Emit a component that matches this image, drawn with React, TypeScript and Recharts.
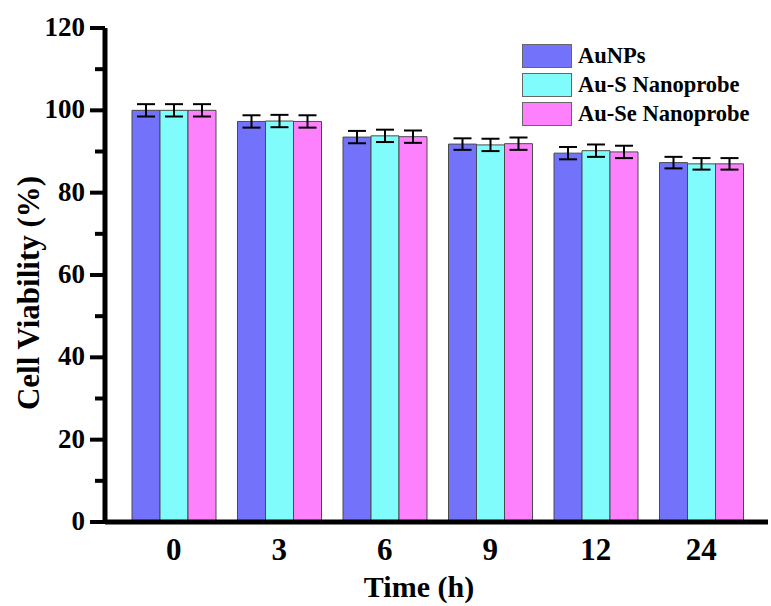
import React from 'react';
import { BarChart, Bar, XAxis, YAxis, ErrorBar, Label } from 'recharts';

const TIMES = ['0', '3', '6', '9', '12', '24'];
const AUNPS = [100, 97.3, 93.5, 91.8, 89.6, 87.3];
const AU_S = [100, 97.4, 93.8, 91.6, 90.2, 87.0];
const AU_SE = [100, 97.3, 93.6, 91.9, 89.9, 87.0];
const AUNPS_ERR = [1.5, 1.5, 1.5, 1.4, 1.5, 1.4];
const AU_S_ERR = [1.5, 1.5, 1.5, 1.5, 1.5, 1.4];
const AU_SE_ERR = [1.5, 1.5, 1.5, 1.5, 1.5, 1.4];
const Y_TICKS = [0, 10, 20, 30, 40, 50, 60, 70, 80, 90, 100, 110, 120];

const SERIES = [
  { key: 'aunps', err: 'aunpsErr', name: 'AuNPs', color: '#7272fb' },
  { key: 'aus', err: 'ausErr', name: 'Au-S Nanoprobe', color: '#80fcfc' },
  { key: 'ause', err: 'auseErr', name: 'Au-Se Nanoprobe', color: '#fd80fd' },
];

const data = TIMES.map((t, i) => ({
  time: t,
  aunps: AUNPS[i],
  aus: AU_S[i],
  ause: AU_SE[i],
  aunpsErr: AUNPS_ERR[i],
  ausErr: AU_S_ERR[i],
  auseErr: AU_SE_ERR[i],
}));

const FONT = '"Liberation Serif", "Times New Roman", serif';
const AXIS_X = 105;

const YTick = (props: any) => {
  const { y, payload } = props;
  const major = payload.value % 20 === 0;
  return (
    <g>
      <line x1={AXIS_X} x2={AXIS_X - (major ? 15 : 10)} y1={y} y2={y} stroke="#000" strokeWidth={4} />
      {major && (
        <text x={85} y={y} dy={-1} textAnchor="end" dominantBaseline="central"
          style={{ fontFamily: FONT, fontWeight: 700, fontSize: 27 }} fill="#000">
          {payload.value}
        </text>
      )}
    </g>
  );
};

const XTick = (props: any) => {
  const { x, payload } = props;
  return (
    <text x={x} y={560} textAnchor="middle" style={{ fontFamily: FONT, fontWeight: 700, fontSize: 31 }} fill="#000">
      {payload.value}
    </text>
  );
};

const Legendbox = () => (
  <div style={{ position: 'absolute', left: 522, top: 41, fontFamily: FONT, fontWeight: 'bold', fontSize: 22.5 }}>
    {SERIES.map((s) => (
      <div key={s.key} style={{ display: 'flex', alignItems: 'center', height: 29 }}>
        <div style={{ width: 50, height: 24, background: s.color, border: '1px solid #666', boxSizing: 'border-box' }} />
        <span style={{ marginLeft: 6, whiteSpace: 'nowrap' }}>{s.name}</span>
      </div>
    ))}
  </div>
);

export default function App() {
  return (
    <div style={{ position: 'absolute', left: 0, top: 0, width: 771, height: 606, background: '#fff' }}>
      <BarChart width={771} height={606} data={data} margin={{ top: 28, right: 3, left: 0, bottom: 0 }}
        barGap={0} barSize={28}>
        <XAxis dataKey="time" height={84} tick={<XTick />} tickLine={false} interval={0}
          padding={{ left: 16, right: 14 }} axisLine={{ stroke: '#000', strokeWidth: 5 }}>
          <Label content={() => (
            <text x={419} y={597} textAnchor="middle" style={{ fontFamily: FONT, fontWeight: 700, fontSize: 30 }} fill="#000">
              Time (h)
            </text>
          )} />
        </XAxis>
        <XAxis xAxisId="top" orientation="top" dataKey="time" height={0} tick={false} tickLine={false}
          padding={{ left: 16, right: 14 }} axisLine={{ stroke: '#000', strokeWidth: 4 }} />
        <YAxis width={105} domain={[0, 120]} ticks={Y_TICKS} interval={0} tick={<YTick />} tickLine={false}
          axisLine={{ stroke: '#000', strokeWidth: 5 }}>
          <Label content={() => (
            <text x={28} y={293} transform="rotate(-90 28 293)" textAnchor="middle" dominantBaseline="central"
              style={{ fontFamily: FONT, fontWeight: 700, fontSize: 31 }} fill="#000">
              Cell Viability (%)
            </text>
          )} />
        </YAxis>
        <YAxis yAxisId="right" orientation="right" width={0} domain={[0, 120]} tick={false} tickLine={false}
          axisLine={{ stroke: '#000', strokeWidth: 4 }} />
        {SERIES.map((s) => (
          <Bar key={s.key} dataKey={s.key} fill={s.color} stroke="#4a4a4a" strokeWidth={1} isAnimationActive={false}>
            <ErrorBar dataKey={s.err} width={9} stroke="#000" strokeWidth={2} />
          </Bar>
        ))}
      </BarChart>
      <Legendbox />
    </div>
  );
}
